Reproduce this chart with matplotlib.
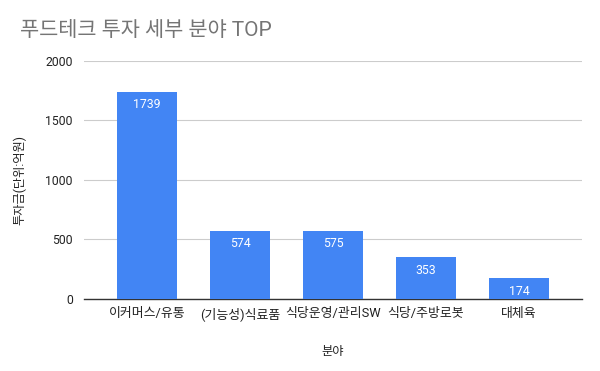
import matplotlib.pyplot as plt

plt.rcParams['font.family'] = ['Roboto', 'Noto Sans CJK KR', 'DejaVu Sans']

# 데이터
categories = ["이커머스/유통", "(기능성)식료품", "식당운영/관리SW", "식당/주방로봇", "대체육"]
values = [1739, 574, 575, 353, 174]
yticks = [0, 500, 1000, 1500, 2000]

fig = plt.figure(figsize=(6, 3.71), dpi=100)
ax = fig.add_axes([0.14, 0.194, 0.83, 0.642])

x = range(len(categories))
bars = ax.bar(x, values, width=0.645, color="#4285F4", zorder=3)

for i, v in enumerate(values):
    ax.text(i, v - 55, str(v), ha="center", va="top", color="white", fontsize=8.8, zorder=4)

ax.set_xlim(-0.677, 4.677)
ax.set_ylim(0, 2000)
ax.set_yticks(yticks)
ax.set_yticklabels([str(t) for t in yticks], fontsize=8.8, color="#222222")
ax.set_xticks(list(x))
ax.set_xticklabels(categories, fontsize=9.3, color="#222222")
ax.grid(axis="y", color="#cccccc", linewidth=0.8, zorder=0)
ax.tick_params(length=0, pad=8)
ax.tick_params(axis="x", pad=6)
for s in ["top", "right", "left"]:
    ax.spines[s].set_visible(False)
ax.spines["bottom"].set_color("#333333")
ax.spines["bottom"].set_linewidth(1)

ax.set_xlabel("분야", fontsize=8.8, color="#222222", labelpad=17)
ax.set_ylabel("투자금(단위:억원)", fontsize=8.8, color="#222222", labelpad=14)

fig.text(0.033, 0.918, "푸드테크 투자 세부 분야 TOP", fontsize=15, color="#757575", va="center")

fig.savefig("out.png", dpi=100)
